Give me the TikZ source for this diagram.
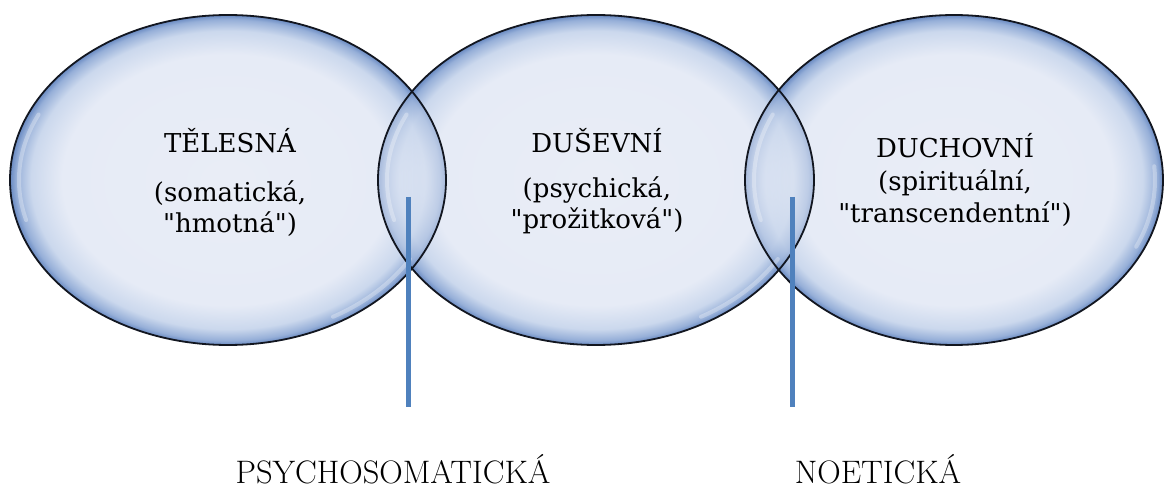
\documentclass[tikz,border=0pt]{standalone}
\usepackage{fontspec}
\newfontfamily\bubblefont{DejaVu Serif}
\definecolor{bin}{RGB}{233,237,246}
\definecolor{bin2}{RGB}{230,235,246}
\definecolor{bmid}{RGB}{203,216,237}
\definecolor{bdeep}{RGB}{150,175,216}
\definecolor{bedge}{RGB}{105,138,194}
\definecolor{ptblue}{RGB}{79,129,189}
\definecolor{outline}{RGB}{18,22,32}
\pgfdeclareradialshading{bubble}{\pgfpoint{0bp}{0bp}}{color(0bp)=(bin); color(19bp)=(bin2); color(22.6bp)=(bmid); color(24.3bp)=(bdeep); color(25bp)=(bedge); color(50bp)=(bedge)}
\tikzset{
  bubblefill/.style={shading=bubble},
  rim/.style={draw=outline, line width=1.8pt},
  pointer/.style={draw=ptblue, line width=5pt},
  inlabel/.style={font=\bubblefont\fontsize{26pt}{30pt}\selectfont, anchor=base, inner sep=0pt},
  outlabel/.style={font=\fontsize{32.5pt}{36pt}\selectfont, anchor=base, inner sep=0pt},
  gleam/.style={draw=white, line width=4pt, opacity=0.3, line cap=round}
}
\begin{document}
\begin{tikzpicture}[x=1pt,y=-1pt]
\useasboundingbox (0,0) rectangle (1165,489);
% bubbles
\shade[bubblefill] (228,180) ellipse [x radius=218pt, y radius=165pt];
\shade[bubblefill] (596,180) ellipse [x radius=218pt, y radius=165pt];
\shade[bubblefill] (954,180) ellipse [x radius=209pt, y radius=165pt];
% translucent overlaps
\begin{scope}
  \clip (596,180) ellipse [x radius=218pt, y radius=165pt];
  \shade[bubblefill, opacity=0.5] (228,180) ellipse [x radius=218pt, y radius=165pt];
\end{scope}
\begin{scope}
  \clip (954,180) ellipse [x radius=209pt, y radius=165pt];
  \shade[bubblefill, opacity=0.5] (596,180) ellipse [x radius=218pt, y radius=165pt];
\end{scope}
% highlights
\draw[gleam] ([shift={(228,180)}]155:209pt and 155pt) arc[start angle=155, end angle=195, x radius=209pt, y radius=155pt];
\draw[gleam] ([shift={(228,180)}]300:210pt and 158pt) arc[start angle=300, end angle=330, x radius=210pt, y radius=158pt];
\draw[gleam] ([shift={(596,180)}]155:209pt and 155pt) arc[start angle=155, end angle=195, x radius=209pt, y radius=155pt];
\draw[gleam] ([shift={(596,180)}]300:210pt and 158pt) arc[start angle=300, end angle=330, x radius=210pt, y radius=158pt];
\draw[gleam] ([shift={(954,180)}]155:200pt and 155pt) arc[start angle=155, end angle=195, x radius=200pt, y radius=155pt];
\draw[gleam] ([shift={(954,180)}]335:201pt and 158pt) arc[start angle=335, end angle=365, x radius=201pt, y radius=158pt];
% outlines
\draw[rim] (228,180) ellipse [x radius=218pt, y radius=165pt];
\draw[rim] (596,180) ellipse [x radius=218pt, y radius=165pt];
\draw[rim] (954,180) ellipse [x radius=209pt, y radius=165pt];
% texts
\node[inlabel] (t1) at (230,153) {TĚLESNÁ};
\node[inlabel] (t2) at (230,202) {(somatická,};
\node[inlabel] (t3) at (230,233) {"hmotná")};
\node[inlabel] (d1) at (597,153) {DUŠEVNÍ};
\node[inlabel] (d2) at (597,198) {(psychická,};
\node[inlabel] (d3) at (597,229) {"prožitková")};
\node[inlabel] (s1) at (955,158) {DUCHOVNÍ};
\node[inlabel] (s2) at (955,191) {(spirituální,};
\node[inlabel] (s3) at (955,223) {"transcendentní")};
% pointers
\coordinate (p1top) at (408,197);
\coordinate (p1bot) at (408,407);
\coordinate (p2top) at (792,197);
\coordinate (p2bot) at (792,407);
\draw[pointer] (p1top) -- (p1bot);
\draw[pointer] (p2top) -- (p2bot);
% bottom labels
\node[outlabel] (psy) at (393,483) {PSYCHOSOMATICKÁ};
\node[outlabel] (noe) at (878,483) {NOETICKÁ};
\end{tikzpicture}
\end{document}
